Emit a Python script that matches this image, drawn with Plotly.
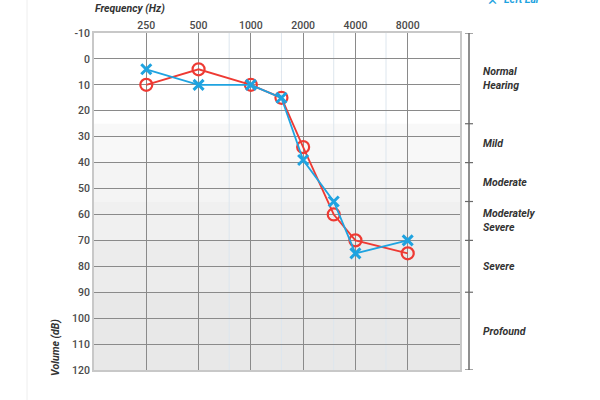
import plotly.graph_objects as go

freqs = [250, 500, 1000, 1500, 2000, 3000, 4000, 8000]
right_ear = [10, 4, 10, 15, 34, 60, 70, 75]
left_ear = [4, 10, 10, 15, 39, 55, 75, 70]

major_freqs = [250, 500, 1000, 2000, 4000, 8000]
major_labels = ["250", "500", "1000", "2000", "4000", "8000"]
minor_freqs = [750, 1500, 3000, 6000]
db_ticks = list(range(-10, 121, 10))
db_labels = [str(v) for v in db_ticks]

band_edges = [-10, 25, 40, 55, 70, 90, 120]
band_names = ["Normal<br>Hearing", "Mild", "Moderate", "Moderately<br>Severe", "Severe", "Profound"]
band_colors = ["#ffffff", "#f8f8f8", "#f4f4f4", "#f0f0f0", "#ececec", "#e8e8e8"]

RED = "#ee3a33"
BLUE = "#1fa3e0"
FONT = "Roboto"

fig = go.Figure()

fig.add_trace(go.Scatter(
    x=freqs, y=right_ear, mode="lines+markers", name="Right Ear",
    line=dict(color=RED, width=1.8),
    marker=dict(symbol="circle-open", size=12, color=RED, line=dict(width=2.2, color=RED)),
))
fig.add_trace(go.Scatter(
    x=freqs, y=left_ear, mode="lines+markers", name="Left Ear",
    line=dict(color=BLUE, width=1.8),
    marker=dict(symbol="x-thin-open", size=10, color=BLUE, line=dict(width=3, color=BLUE)),
))

shapes = []
for i, name in enumerate(band_names):
    shapes.append(dict(type="rect", xref="paper", yref="y", x0=0, x1=1,
                       y0=band_edges[i], y1=band_edges[i + 1],
                       fillcolor=band_colors[i], line=dict(width=0), layer="below"))
for f in minor_freqs:
    shapes.append(dict(type="line", xref="x", yref="paper", x0=f, x1=f, y0=0, y1=1,
                       line=dict(color="#dde6ee", width=1), layer="below"))

# right-hand bracket
bx = 1.0246
shapes.append(dict(type="line", xref="paper", yref="y", x0=bx, x1=bx,
                   y0=band_edges[0], y1=band_edges[-1], line=dict(color="#6a6a6a", width=1.5)))
for e in band_edges:
    shapes.append(dict(type="line", xref="paper", yref="y", x0=bx - 0.011, x1=bx + 0.011,
                       y0=e, y1=e, line=dict(color="#6a6a6a", width=1.2)))
# faint left container border
shapes.append(dict(type="line", xref="paper", yref="paper", x0=-0.183, x1=-0.183,
                   y0=-0.1, y1=1.1, line=dict(color="#eeeeee", width=1)))

annotations = []
for i, name in enumerate(band_names):
    annotations.append(dict(xref="paper", yref="y", x=1.057, xanchor="left",
                            y=(band_edges[i] + band_edges[i + 1]) / 2, yanchor="middle",
                            text="<b><i>" + name + "</i></b>", showarrow=False, align="left",
                            font=dict(family=FONT, size=10.5, color="#333")))
annotations.append(dict(xref="paper", yref="paper", x=-0.003, xanchor="left", y=1.074, yanchor="middle",
                        text="<b><i>Frequency (Hz)</i></b>", showarrow=False,
                        font=dict(family=FONT, size=10.5, color="#333")))
annotations.append(dict(xref="paper", yref="paper", x=-0.107, xanchor="center", y=0.068, yanchor="middle",
                        text="<b><i>Volume (dB)</i></b>", showarrow=False, textangle=-90,
                        font=dict(family=FONT, size=10.5, color="#333")))
annotations.append(dict(xref="paper", yref="paper", x=1.116, xanchor="left", y=1.098, yanchor="middle",
                        text="<b><i>Left Ear</i></b>", showarrow=False,
                        font=dict(family=FONT, size=10.5, color=BLUE)))
annotations.append(dict(xref="paper", yref="paper", x=1.11, xanchor="right", y=1.097, yanchor="middle",
                        text="<b>✕</b>", showarrow=False,
                        font=dict(family="DejaVu Sans", size=13, color=BLUE)))

fig.update_layout(
    width=600, height=400,
    margin=dict(l=94, r=140, t=33, b=30),
    paper_bgcolor="white", plot_bgcolor="rgba(0,0,0,0)",
    showlegend=False,
    shapes=shapes, annotations=annotations,
    font=dict(family=FONT, size=10.5, color="#444"),
)
fig.update_xaxes(
    type="log", range=[2.09691, 4.20412], side="top",
    tickmode="array", tickvals=major_freqs, ticktext=major_labels,
    showgrid=True, gridcolor="#8a8a8a", gridwidth=1.3,
    showline=True, linecolor="#c8c8c8", linewidth=2, mirror=True,
    ticks="", zeroline=False, fixedrange=True, ticklabelstandoff=-2,
    tickfont=dict(family=FONT, size=10.5, color="#4a4a4a", weight=500),
)
fig.update_yaxes(
    range=[120, -10], tickmode="array", tickvals=db_ticks, ticktext=db_labels,
    showgrid=True, gridcolor="#8a8a8a", gridwidth=1.3,
    showline=True, linecolor="#c8c8c8", linewidth=2, mirror=True,
    ticks="", zeroline=False, fixedrange=True,
    tickfont=dict(family=FONT, size=10.5, color="#4a4a4a", weight=500),
)

fig.write_html("out.html")
